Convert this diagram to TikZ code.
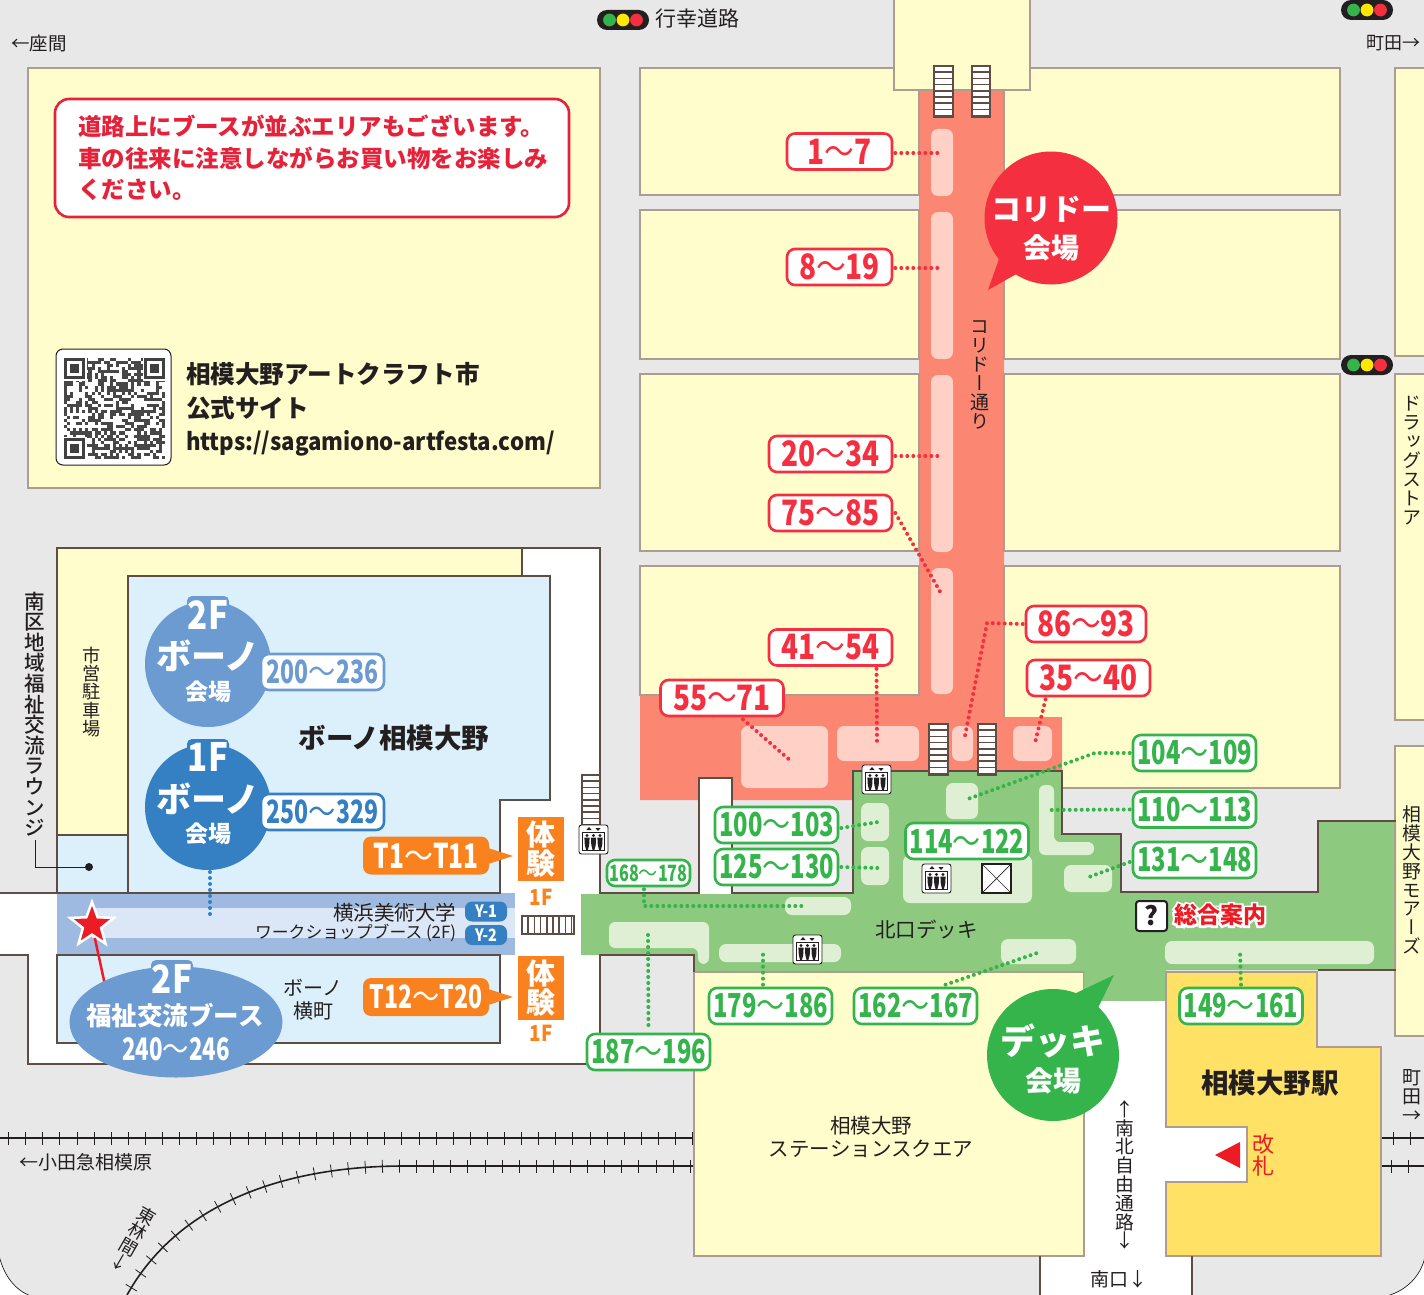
\documentclass[tikz,border=0pt]{standalone}
\usepackage{fontspec}
\usepackage{graphicx}
\usetikzlibrary{shapes.geometric,decorations.markings,calc}
\setmainfont{Noto Sans CJK JP}
\newfontfamily\vjp[RawFeature=+vert]{Noto Sans CJK JP}
\newfontfamily\vjm[RawFeature=+vert]{Noto Sans CJK JP Medium}
\newfontfamily\condf[FakeStretch=.72]{Noto Sans CJK JP}
\newfontfamily\condr[FakeStretch=.80]{Noto Sans CJK JP}
\newfontfamily\condg[FakeStretch=.85]{Noto Sans CJK JP}
\newfontfamily\urlf[FakeStretch=.925]{Noto Sans CJK JP}
\newfontfamily\glowf[UprightFont=* Bold,FakeBold=20]{Noto Sans CJK JP}
\newcommand\fs[1]{\fontsize{#1}{#1}\selectfont\lineskiplimit=-100pt\relax}
\newcommand\wv{{\condg\mdseries 〜}}
\definecolor{bggray}{HTML}{E8E8E9}
\definecolor{blockY}{HTML}{FFFDCB}
\definecolor{tanL}{HTML}{AD9C90}
\definecolor{wallB}{HTML}{5F4D45}
\definecolor{salm}{HTML}{FB8672}
\definecolor{salmL}{HTML}{FFD0C6}
\definecolor{deck}{HTML}{8DC97F}
\definecolor{deckL}{HTML}{DFEFD4}
\definecolor{gr}{HTML}{34B44A}
\definecolor{rd}{HTML}{F43040}
\definecolor{rd2}{HTML}{E6223A}
\definecolor{rd3}{HTML}{ED1C24}
\definecolor{blA}{HTML}{6C9BD2}
\definecolor{blB}{HTML}{3580C3}
\definecolor{skyL}{HTML}{DBF0FB}
\definecolor{band}{HTML}{9FBAE0}
\definecolor{bandL}{HTML}{DBE7F7}
\definecolor{org}{HTML}{F9821F}
\definecolor{stn}{HTML}{FFE166}
\definecolor{ink}{HTML}{231F20}
\tikzset{
  x=1pt,y=-1pt,
  yblock/.style={fill=blockY,draw=tanL,line width=2.5pt},
  ystroke/.style={draw=tanL,line width=2.5pt},
  wall/.style={draw=wallB,line width=2.5pt,line join=miter},
  txt/.style={inner sep=0pt,outer sep=0pt,text=ink},
  vt/.style={inner sep=0pt,outer sep=0pt,text=ink,align=center},
  numlab/.style={fill=white,line width=2.6pt,rounded corners=8pt,inner sep=0pt,minimum width=123pt,minimum height=36pt,font=\condf\bfseries\fs{33}},
  redlab/.style={numlab,draw=rd,text=rd,font=\condr\bfseries\fs{35}},
  grlab/.style={numlab,draw=gr,text=gr},
  bllabA/.style={numlab,draw=blA,text=blA,font=\condf\bfseries\fs{32}},
  bllabB/.style={numlab,draw=blB,text=blB,font=\condf\bfseries\fs{32}},
  dotr/.style={draw=rd,line width=4pt,line cap=round,dash pattern=on 0pt off 6pt},
  dotg/.style={draw=gr,line width=4pt,line cap=round,dash pattern=on 0pt off 6pt},
  dotb/.style={draw=blB,line width=4pt,line cap=round,dash pattern=on 0pt off 6pt},
  slab/.style={fill=salmL,rounded corners=7pt},
  glab/.style={fill=deckL,rounded corners=7pt},
  track/.style={draw=ink,line width=1.6pt,postaction={decorate,decoration={markings,mark=between positions 8.5pt and 1 step 17.1pt with {\draw[ink,line width=.8pt] (0pt,-6.5pt)--(0pt,6.5pt);}}}},
  orgbox/.style={fill=org,rounded corners=8pt,inner sep=0pt,minimum width=126pt,minimum height=38pt,text=white,font=\condf\bfseries\fs{34}},
  taibox/.style={fill=org,inner sep=0pt,minimum width=46pt,minimum height=64pt,text=white,font=\bfseries\fs{29},align=center},
  ybadge/.style={fill=blB,rounded corners=7pt,inner sep=0pt,minimum width=42pt,minimum height=20pt,text=white,font=\condg\bfseries\fs{17}},
}
\newcommand\stairv[4]{%
  \fill[white] (#1,#2) rectangle (#3,#4);
  \pgfmathsetmacro\stepn{int((#4-#2)/6.2)}%
  \foreach \k in {1,...,\stepn}{\draw[wallB,line width=1.5pt] (#1,{#2+\k*6.2}) -- (#3,{#2+\k*6.2});}
  \draw[wallB,line width=2pt] (#1,#2) rectangle (#3,#4);}
\newcommand\stairh[4]{%
  \fill[white] (#1,#2) rectangle (#3,#4);
  \pgfmathsetmacro\stepn{int((#3-#1)/6.2)}%
  \foreach \k in {1,...,\stepn}{\draw[wallB,line width=1.5pt] ({#1+\k*6.2},#2) -- ({#1+\k*6.2},#4);}
  \draw[wallB,line width=2pt] (#1,#2) rectangle (#3,#4);}
\newcommand\elev[2]{%
  \begin{scope}[shift={(#1,#2)}]
  \draw[fill=white,draw=ink,line width=.9pt,rounded corners=2.5pt] (0,0) rectangle (29,29);
  \draw[ink,line width=.5pt] (3.5,7) rectangle (25.5,25.5);
  \foreach \dx in {8,14.5,21}{
    \fill[ink] (\dx,10.5) circle (1.7pt);
    \fill[ink] (\dx-2.6,12.6) -- (\dx+2.6,12.6) -- (\dx+2.2,20) -- (\dx+.9,25) -- (\dx-.9,25) -- (\dx-2.2,20) -- cycle;}
  \fill[ink] (10,2) -- (12.6,5) -- (7.4,5) -- cycle;
  \fill[ink] (19,6) -- (21.6,3) -- (16.4,3) -- cycle;
  \end{scope}}
\newcommand\lights[2]{%
  \begin{scope}[shift={(#1,#2)}]
  \fill[ink,rounded corners=10pt] (0,0) rectangle (52,20);
  \fill[gr] (12.5,10) circle (6.4pt);
  \fill[yellow!90!orange] (26,10) circle (6.4pt);
  \fill[rd] (39.5,10) circle (6.4pt);
  \end{scope}}
\begin{document}
\begin{tikzpicture}
\path[use as bounding box,clip] (0,0) rectangle (1424,1295);
\fill[white] (0,0) rectangle (1424,1295);
\draw[fill=bggray,draw=ink,line width=.7pt] (-2,-2) -- (1426,-2) -- (1426,1250) .. controls (1424,1275) and (1405,1293) .. (1382,1297) -- (34,1297) .. controls (16,1292) and (2,1275) .. (-2,1250) -- cycle;
% rails
\draw[track] (0,1138) -- (1424,1138);
\draw[track] (127,1295) .. controls (180,1200) and (290,1166) .. (404,1166) -- (1424,1166);
% yellow blocks
\draw[yblock] (28,68) rectangle (600,488);
\foreach \a/\b in {68/195,210/359,374/551}{
  \draw[yblock] (640,\a) rectangle (919,\b);
  \draw[yblock] (1004,\a) rectangle (1340,\b);}
\draw[yblock] (640,566) rectangle (919,695);
\draw[yblock] (1004,566) rectangle (1340,788);
\draw[yblock] (1395,68) rectangle (1440,356);
\draw[yblock] (1395,374) rectangle (1440,720);
\draw[yblock] (1395,746) rectangle (1440,1036);
% corridor
\fill[salm] (640,695) -- (919,695) -- (919,90) -- (1004,90) -- (1004,717) -- (1062,717) -- (1062,771) -- (853,771) -- (853,800) -- (640,800) -- cycle;
\foreach \a/\b in {68/195,210/359,374/551}{
  \draw[ystroke] (640,\a) rectangle (919,\b);
  \draw[ystroke] (1004,\a) rectangle (1340,\b);}
\draw[ystroke] (640,566) rectangle (919,695);
\draw[ystroke] (1004,717) -- (1004,566) -- (1340,566) -- (1340,788) -- (1062,788);
\draw[yblock] (894,-5) rectangle (1030,90);
% white left
\fill[white] (0,893) -- (57,893) -- (57,548) -- (600,548) -- (600,1064) -- (28,1064) -- (28,955) -- (0,955) -- cycle;
\fill[blockY] (57,548) -- (522,548) -- (522,576) -- (128,576) -- (128,835) -- (57,835) -- cycle;
\fill[skyL] (128,576) -- (550,576) -- (550,800) -- (500,800) -- (500,893) -- (128,893) -- cycle;
\fill[skyL] (57,835) rectangle (128,893);
\fill[band] (57,893) rectangle (515,955);
\fill[bandL] (92,908) rectangle (515,938);
\draw[wall,fill=skyL] (57,955) rectangle (500,1043);
% green deck + white roads
\fill[white] (700,778) rectangle (732,894);
\fill[deck] (581,894) -- (853,894) -- (853,771) -- (1062,771) -- (1062,834) -- (1121,834) -- (1121,892) -- (1318,892) -- (1318,821) -- (1396,821) -- (1396,970) -- (1166,970) -- (1166,1001) -- (1084,1001) -- (1084,972) -- (694,972) -- (694,955) -- (581,955) -- cycle;
\fill[white] (1084,1001) rectangle (1166,1295);
\fill[white] (1040,1256) rectangle (1192,1300);
\draw[yblock] (694,972) rectangle (1084,1256);
\fill[deck] (1084,972) rectangle (1166,1001);
\fill[white] (1166,1127) rectangle (1247,1182);
\draw[draw=tanL,fill=stn,line width=2.5pt] (1166,972) -- (1317,972) -- (1317,1047) -- (1381,1047) -- (1381,1256) -- (1166,1256) -- (1166,1182) -- (1247,1182) -- (1247,1127) -- (1166,1127) -- cycle;
\draw[ystroke] (1395,746) -- (1395,1036);
% walls
\draw[wall] (57,893) -- (57,548) -- (600,548) -- (600,893) -- (699,893) -- (699,778) -- (732,778) -- (732,893) -- (853,893) -- (853,771) -- (1062,771) -- (1062,834) -- (1121,834) -- (1121,892) -- (1318,892) -- (1318,821) -- (1396,821);
\draw[wall] (522,548) -- (522,576);
\draw[wall] (128,835) -- (128,576) -- (550,576) -- (550,800) -- (500,800) -- (500,893) -- (0,893);
\draw[wall] (57,835) -- (128,835) -- (128,893);
\draw[wall] (0,955) -- (28,955) -- (28,1064) -- (600,1064) -- (600,955) -- (694,955) -- (694,972);
\draw[wall] (1318,970) -- (1396,970);
\draw[wall] (1040,1256) -- (1040,1300);
\draw[wall] (1192,1256) -- (1192,1300);
% light booth boxes
\foreach \a/\b/\c/\d in {931/129/953/196,931/212/953/359,931/375/953/552,931/568/953/694,741/726/828/788,837/726/919/761,952/726/973/761,1013/726/1052/761}{
  \fill[slab] (\a,\b) rectangle (\c,\d);}
\foreach \a/\b/\c/\d in {861/803/889/841,861/847/889/885,946/783/978/819,903/855/1032/903,1064/865/1112/892,785/897/851/915,719/944/841/962,1001/939/1076/964,1165/941/1374/964}{
  \fill[glab] (\a,\b) rectangle (\c,\d);}
\fill[deckL,rounded corners=6pt] (1039,785) -- (1054,785) -- (1054,842) -- (1094,842) -- (1094,855) -- (1039,855) -- cycle;
\fill[deckL,rounded corners=6pt] (609,922) -- (709,922) -- (709,964) -- (698,964) -- (698,948) -- (609,948) -- cycle;
% stairs, lifts
\stairv{934}{66}{953}{117}
\stairv{972}{66}{990}{117}
\stairv{929}{724}{948}{775}
\stairv{978}{724}{996}{775}
\stairv{582}{775}{600}{826}
\stairh{522}{916}{574}{934}
\elev{579}{825}
\elev{862}{765}
\elev{922}{864}
\elev{793}{935}
\draw[fill=white,draw=ink,line width=1.2pt] (982,864) rectangle (1011,893);
\draw[ink,line width=.7pt] (982,864) -- (1011,893) (982,893) -- (1011,864);
% traffic lights
\lights{597}{10}
\lights{1341}{0}
\lights{1341}{355}
% callouts
\fill[rd] (1051,218) circle (66.5pt);
\fill[rd] (999,259) -- (988,290) -- (1020,272) -- cycle;
\node[txt,text=white,font=\bfseries\fs{30}] (cT) at (1051,209) {コリドー};
\node[txt,text=white,font=\bfseries\fs{28}] (cK) at (1051,248) {会場};
\fill[gr] (1053,1055) circle (66pt);
\fill[gr] (1072,995) -- (1114,975) -- (1096,1012) -- cycle;
\node[txt,text=white,font=\bfseries\fs{35}] (dT) at (1053,1041) {デッキ};
\node[txt,text=white,font=\bfseries\fs{28}] (dK) at (1053,1081) {会場};
% blue circles
\fill[blA] (208,664) circle (63pt);
\fill[blA,rounded corners=5pt] (187,596) rectangle (229,625);
\fill[blB] (208,807) circle (63pt);
\fill[blB,rounded corners=5pt] (187,739) rectangle (229,768);
\node[txt,text=white,font=\condg\bfseries\fs{39}] (f2) at (208,615) {2F};
\node[txt,text=white,font=\bfseries\fs{35}] (b2) at (208,656) {ボーノ};
\node[txt,text=white,font=\bfseries\fs{23}] (k2) at (208,692) {会場};
\node[txt,text=white,font=\condg\bfseries\fs{39}] (f1) at (208,757) {1F};
\node[txt,text=white,font=\bfseries\fs{35}] (b1) at (208,799) {ボーノ};
\node[txt,text=white,font=\bfseries\fs{23}] (k1) at (208,834) {会場};
\node[bllabA] (n200) at (322.5,672) {200\wv 236};
\node[bllabB] (n250) at (322.5,812) {250\wv 329};
\coordinate (d1a) at (210,872);
\coordinate (d1b) at (210,917);
\draw[dotb] (d1a) -- (d1b);
% star + welfare ellipse
\node[star,star points=5,star point ratio=2.4,fill=rd3,draw=white,line width=2.5pt,minimum size=46pt,inner sep=0pt] (st) at (92,925) {};
\coordinate (ellp) at (105,985);
\draw[rd3,line width=2.5pt] (st) -- (ellp);
\node[ellipse,fill=blA,inner sep=0pt,minimum width=213pt,minimum height=111pt] (ell) at (176,1022) {};
\fill[blA,rounded corners=5pt] (151,960) rectangle (193,985);
\node[txt,text=white,font=\condg\bfseries\fs{39}] (f3) at (172,979) {2F};
\node[txt,text=white,font=\bfseries\fs{25.5}] (wf) at (175,1016) {福祉交流ブース};
\node[txt,text=white,font=\condf\bfseries\fs{31}] (wn) at (176,1049) {240\wv 246};
% bono texts
\node[txt,font=\bfseries\fs{27.5}] (bono) at (394,738) {ボーノ相模大野};
\node[txt,font=\fs{20}] (yk1) at (313,988) {ボーノ};
\node[txt,font=\fs{20}] (yk2) at (313,1011) {横町};
\node[txt,anchor=east,font=\fs{20.5}] (yb1) at (456,913) {横浜美術大学};
\node[txt,anchor=east,font=\fs{16.8}] (yb2) at (456,933) {ワークショップブース (2F)};
\node[ybadge] (y1) at (486,911.5) {Y-1};
\node[ybadge] (y2) at (486,935) {Y-2};
% orange
\fill[org] (485,847) -- (513,856) -- (485,865) -- cycle;
\node[orgbox] (t1) at (426,855.5) {T1\wv T11};
\fill[org] (485,988) -- (513,997) -- (485,1006) -- cycle;
\node[orgbox,font=\condf\bfseries\fs{32}] (t2) at (426,997) {T12\wv T20};
\node[taibox] (tai1) at (541,849) {体\\験};
\node[taibox] (tai2) at (541,988) {体\\験};
\node[txt,text=org,font=\condg\bfseries\fs{22}] (o1) at (541,897) {1F};
\node[txt,text=org,font=\condg\bfseries\fs{22}] (o2) at (541,1033) {1F};
% number labels + connectors
\node[redlab,minimum width=105pt] (r1) at (839.5,151.5) {1\wv 7};
\node[redlab,minimum width=105pt] (r2) at (839.5,267) {8\wv 19};
\node[redlab] (r3) at (830.5,454) {20\wv 34};
\node[redlab] (r4) at (830.5,513) {75\wv 85};
\node[redlab] (r5) at (830.5,647.5) {41\wv 54};
\node[redlab] (r6) at (722,698) {55\wv 71};
\node[redlab,minimum width=120pt] (r7) at (1086,624) {86\wv 93};
\node[redlab] (r8) at (1088.5,678) {35\wv 40};
\coordinate (e1) at (942,153);
\coordinate (e2) at (942,268);
\coordinate (e3) at (942,456);
\coordinate (e4) at (942,595);
\coordinate (e5) at (877,743);
\coordinate (e6) at (792,762);
\coordinate (e7a) at (987,623);
\coordinate (e7) at (964,741);
\coordinate (e8) at (1035,743);
\draw[dotr] ([xshift=2pt,yshift=-1.5pt]r1.east) -- (e1);
\draw[dotr] ([xshift=2pt,yshift=-1pt]r2.east) -- (e2);
\draw[dotr] ([xshift=2pt,yshift=-2pt]r3.east) -- (e3);
\draw[dotr] ([xshift=2pt]r4.east) -- (e4);
\draw[dotr] ([xshift=46pt,yshift=-2pt]r5.south) -- (e5);
\draw[dotr] ([xshift=21pt,yshift=-2pt]r6.south) -- (e6);
\draw[dotr] ([xshift=-2pt]r7.west) -- (e7a) -- (e7);
\draw[dotr] ([xshift=-43pt,yshift=-2pt]r8.south) -- (e8);
\node[grlab] (g1) at (1194.5,753) {104\wv 109};
\node[grlab] (g2) at (1194.5,809.5) {110\wv 113};
\node[grlab] (g3) at (1194.5,860) {131\wv 148};
\node[grlab] (g4) at (776.5,825) {100\wv 103};
\node[grlab] (g5) at (776.5,867) {125\wv 130};
\node[grlab] (g6) at (967,841) {114\wv 122};
\node[grlab,minimum width=83pt,minimum height=26pt,font=\condf\bfseries\fs{22.5}] (g7) at (648.5,873) {168\wv 178};
\node[grlab] (g8) at (770.5,1006) {179\wv 186};
\node[grlab] (g9) at (915.5,1006) {162\wv 167};
\node[grlab] (g10) at (648.5,1052) {187\wv 196};
\node[grlab] (g11) at (1241,1006) {149\wv 161};
\coordinate (h1a) at (1095,753);
\coordinate (h1) at (965,800);
\coordinate (h2) at (1046,810);
\coordinate (h3) at (1089,877);
\coordinate (h4) at (878,822);
\coordinate (h5) at (878,868);
\coordinate (h7a) at (644,906);
\coordinate (h7) at (807,906);
\coordinate (h8) at (763,950);
\coordinate (h9) at (1037,953);
\coordinate (h10) at (648,935);
\coordinate (h11) at (1240,951);
\draw[dotg] ([xshift=-2pt]g1.west) -- (h1a) -- (h1);
\draw[dotg] ([xshift=-2pt]g2.west) -- (h2);
\draw[dotg] ([xshift=-2pt,yshift=-2pt]g3.west) -- (h3);
\draw[dotg] ([xshift=2pt,yshift=-3pt]g4.east) -- (h4);
\draw[dotg] ([xshift=2pt]g5.east) -- (h5);
\draw[dotg] ([xshift=-4.5pt,yshift=-2pt]g7.south) -- (h7a) -- (h7);
\draw[dotg] ([xshift=-7.5pt,yshift=2pt]g8.north) -- (h8);
\draw[dotg] ([xshift=30pt,yshift=2pt]g9.north) -- (h9);
\draw[dotg] (h10) -- ([yshift=2pt]g10.north);
\draw[dotg] ([yshift=2pt]g11.north) -- (h11);
% info
\draw[fill=white,draw=ink,line width=2pt,rounded corners=3pt] (1136,901) rectangle (1167,931);
\node[txt,font=\bfseries\fs{26}] (qm) at (1151.5,915.5) {?};
\node[txt,text=white,font=\glowf\fs{23}] (soug) at (1220,915) {総合案内};
\node[txt,text=rd3,font=\bfseries\fs{23}] (sou) at (1220,915) {総合案内};
\node[txt,font=\fs{20.5}] (kita) at (926.5,930) {北口デッキ};
% top labels
\node[txt,font=\fs{21}] (miyuki) at (697,19) {行幸道路};
\node[txt,font=\fs{18.5}] (zama) at (39,43) {←座間};
\node[txt,font=\fs{18}] (mac1) at (1393,43) {町田→};
% notice
\draw[fill=white,draw=rd2,line width=2.6pt,rounded corners=14pt] (55,99) rectangle (569,217);
\node[txt,anchor=west,text=rd2,font=\bfseries\fs{23.5}] (nt1) at (78,126) {道路上にブースが並ぶエリアもございます。};
\node[txt,anchor=west,text=rd2,font=\bfseries\fs{23.5}] (nt2) at (78,158) {車の往来に注意しながらお買い物をお楽しみ};
\node[txt,anchor=west,text=rd2,font=\bfseries\fs{23.5}] (nt3) at (78,190) {ください。};
% QR
\draw[fill=white,draw=ink,line width=1pt,rounded corners=7pt] (56,349) rectangle (171,465);
\pgfmathsetseed{4242}
\foreach \i in {0,...,32}{\foreach \j in {0,...,32}{
  \pgfmathparse{rnd<0.5?1:0}
  \ifnum\pgfmathresult=1 \fill[black!72] ({64+\i*3.06},{358+\j*3.06}) rectangle ++(3.06,3.06);\fi
}}
\foreach \px/\py in {64/358,143.6/358,64/437.6}{
  \fill[white] (\px-1,\py-1) rectangle ++(24.4,24.4);
  \fill[black!75] (\px,\py) rectangle ++(21.4,21.4);
  \fill[white] (\px+3,\py+3) rectangle ++(15.4,15.4);
  \fill[black!75] (\px+6,\py+6) rectangle ++(9.4,9.4);}
\node[txt,anchor=west,font=\bfseries\fs{24.6}] (s1) at (186,374) {相模大野アートクラフト市};
\node[txt,anchor=west,font=\bfseries\fs{24.6}] (s2) at (186,408) {公式サイト};
\node[txt,anchor=west,font=\urlf\bfseries\fs{24}] (s3) at (186,443) {https://sagamiono-artfesta.com/};
% vertical texts
\node[vt,font=\vjp\fs{19}] (v1) at (980,375) {コ\\リ\\ド\\ー\\通\\り};
\node[vt,font=\vjp\fs{19}] (v2) at (1412,461) {ド\\ラ\\ッ\\グ\\ス\\ト\\ア};
\node[vt,font=\vjp\fs{18.8}] (v3) at (1412,880) {相\\模\\大\\野\\モ\\ア\\ー\\ズ};
\node[vt,font=\vjm\fs{20.6}] (v4) at (35,714) {南\\区\\地\\域\\福\\祉\\交\\流\\ラ\\ウ\\ン\\ジ};
\node[vt,font=\vjp\fs{18.2}] (v5) at (92,692) {市\\営\\駐\\車\\場};
\node[vt,font=\vjp\fs{18.8}] (v6) at (1125,1175) {↑\\南\\北\\自\\由\\通\\路\\↓};
\node[vt,font=\fs{19}] (v7) at (1412,1096) {町\\田\\→};
\node[vt,text=rd3,font=\vjp\fs{22}] (v8) at (1263,1155) {改\\札};
\node[vt,rotate=-30,font=\vjp\fs{18}] (v9) at (133,1239) {東\\林\\間\\↓};
\coordinate (lg1) at (35,840);
\coordinate (lg2) at (35,867);
\coordinate (lg3) at (89,867);
\draw[ink,line width=1pt] (lg1) -- (lg2) -- (lg3);
\fill[ink] (lg3) circle (4pt);
% station texts
\node[txt,font=\bfseries\fs{27.5}] (eki) at (1270,1083) {相模大野駅};
\fill[rd3] (1215,1155) -- (1240,1142) -- (1240,1168) -- cycle;
\node[txt,font=\fs{20.5}] (sq1) at (871,1126) {相模大野};
\node[txt,font=\fs{20.5}] (sq2) at (871,1149) {ステーションスクエア};
\node[txt,font=\fs{19}] (mk) at (1119,1279) {南口↓};
\node[txt,font=\fs{19}] (od) at (86,1162) {←小田急相模原};
\end{tikzpicture}
\end{document}
